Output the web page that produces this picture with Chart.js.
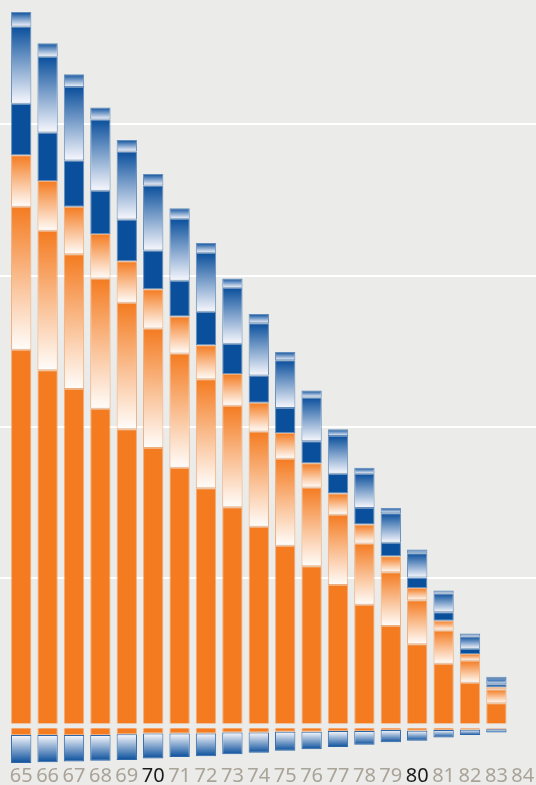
<!DOCTYPE html>
<html>
<head>
<meta charset="utf-8">
<script src="https://cdn.jsdelivr.net/npm/chart.js@4"></script>
<style>
  body { margin: 0; background: #ebebe9; }
  canvas { display: block; }
</style>
</head>
<body>
<canvas id="myChart" width="536" height="785"></canvas>
<script>
// ages on the x axis
const ages = ['65','66','67','68','69','70','71','72','73','74','75','76','77','78','79','80','81','82','83','84'];
const highlightAges = ['70','80'];

// positive stack, bottom to top
const solidOrange     = [49.7, 47.0, 44.5, 41.9, 39.2, 36.7, 34.1, 31.4, 28.9, 26.3, 23.8, 21.1, 18.6, 16.0, 13.2, 10.8, 8.2, 5.7, 3.0, 0];
const orangeFade      = [18.9, 18.4, 17.8, 17.2, 16.7, 15.8, 15.1, 14.4, 13.4, 12.6, 11.5, 10.4, 9.3, 8.1, 7.1, 5.8, 4.4, 2.9, 1.8, 0];
const orangeFadeSmall = [6.8, 6.6, 6.3, 5.9, 5.5, 5.2, 4.9, 4.5, 4.2, 3.8, 3.4, 3.2, 2.8, 2.5, 2.1, 1.6, 1.3, 0.9, 0.3, 0];
const solidBlue       = [6.8, 6.4, 6.1, 5.7, 5.5, 5.1, 4.7, 4.4, 4.0, 3.6, 3.3, 2.9, 2.6, 2.2, 1.8, 1.4, 1.1, 0.7, 0.4, 0];
const blueFade        = [10.2, 10.0, 9.7, 9.4, 9.0, 8.6, 8.2, 7.8, 7.4, 6.9, 6.3, 5.8, 5.0, 4.5, 3.9, 3.2, 2.5, 1.6, 0.7, 0];
const blueFadeSmall   = [1.9, 1.8, 1.7, 1.6, 1.5, 1.5, 1.4, 1.3, 1.2, 1.2, 1.1, 0.9, 0.9, 0.8, 0.7, 0.5, 0.4, 0.4, 0.3, 0];

// negative stack, top to bottom
const negOrange = [-1.2, -1.2, -1.2, -1.2, -1.1, -1.0, -1.0, -1.0, -0.86, -0.86, -0.78, -0.78, -0.69, -0.69, -0.56, -0.65, -0.56, -0.52, -0.46, 0];
const negBlue   = [-3.7, -3.6, -3.5, -3.4, -3.4, -3.3, -3.1, -3.0, -2.9, -2.7, -2.5, -2.3, -2.1, -1.8, -1.6, -1.3, -0.97, -0.7, -0.4, 0];

// white guide lines
const gridValues = [19.5, 39.5, 59.5, 79.5];

const allSeries = [solidOrange, orangeFade, orangeFadeSmall, solidBlue, blueFade, blueFadeSmall, negOrange, negBlue];

const ORANGE = '#f47b20';
const BLUE = '#0a4f9c';
const BG = '#ebebe9';

function segmentBounds(di, i){
    const v = allSeries[di][i];
    let start = 0;
    for(let k = 0; k < di; k += 1){
        const w = allSeries[k][i];
        if((w < 0) === (v < 0)) start += w;
    }
    return [start, start + v];
}

// gradient from topColor (top of the segment) to bottomColor
function fade(topColor, bottomColor){
    return function(context){
        if(context.type !== 'data') return topColor;
        const chart = context.chart;
        const y = chart.scales.y;
        if(!chart.chartArea || !y) return topColor;
        const b = segmentBounds(context.datasetIndex, context.dataIndex);
        const yTop = y.getPixelForValue(Math.max(b[0], b[1]));
        const yBot = y.getPixelForValue(Math.min(b[0], b[1]));
        if(!(yBot > yTop)) return topColor;
        const g = chart.ctx.createLinearGradient(0, yTop, 0, yBot);
        g.addColorStop(0, topColor);
        g.addColorStop(1, bottomColor);
        return g;
    };
}

const orangeEdge = 'rgba(244,123,32,0.55)';
const blueEdge = 'rgba(10,79,156,0.6)';

function makeSet(data, fill, edge){
    return {
        data: data,
        backgroundColor: fill,
        borderColor: edge,
        borderWidth: 1,
        borderSkipped: false,
        stack: 's'
    };
}

const backdrop = {
    id: 'backdrop',
    beforeDraw(chart){
        const c = chart.ctx;
        c.save();
        c.fillStyle = BG;
        c.fillRect(0, 0, chart.width, chart.height);
        c.restore();
    },
    beforeDatasetsDraw(chart){
        const c = chart.ctx;
        const y = chart.scales.y;
        c.save();
        c.strokeStyle = '#ffffff';
        c.lineWidth = 2;
        gridValues.forEach(function(v){
            const py = Math.round(y.getPixelForValue(v));
            c.beginPath();
            c.moveTo(0, py);
            c.lineTo(chart.width, py);
            c.stroke();
        });
        c.restore();
    },
    afterDatasetsDraw(chart){
        // the light break at the zero line
        const c = chart.ctx;
        const y0 = chart.scales.y.getPixelForValue(0);
        c.save();
        c.fillStyle = BG;
        c.fillRect(0, y0 - 2.5, chart.width, 5);
        c.restore();
    }
};

const ctx = document.getElementById('myChart').getContext('2d');
const myChart = new Chart(ctx, {
    type: 'bar',
    data: {
        labels: ages,
        datasets: [
            makeSet(solidOrange, ORANGE, orangeEdge),
            makeSet(orangeFade, fade(ORANGE, '#fffdfb'), orangeEdge),
            makeSet(orangeFadeSmall, fade(ORANGE, '#fffdfb'), orangeEdge),
            makeSet(solidBlue, BLUE, blueEdge),
            makeSet(blueFade, fade(BLUE, '#f8f8fd'), blueEdge),
            makeSet(blueFadeSmall, fade(BLUE, '#f8f8fd'), blueEdge),
            makeSet(negOrange, ORANGE, orangeEdge),
            makeSet(negBlue, fade('#fbfbfe', BLUE), 'rgba(10,79,156,0.85)')
        ]
    },
    options: {
        responsive: false,
        animation: false,
        layout: { padding: { left: 8, right: 0, top: 0, bottom: 0 } },
        datasets: {
            bar: { barPercentage: 0.77, categoryPercentage: 1 }
        },
        plugins: {
            legend: { display: false },
            tooltip: { enabled: false }
        },
        scales: {
            x: {
                stacked: true,
                grid: { display: false, drawTicks: false },
                border: { display: false },
                ticks: {
                    padding: 0,
                    maxRotation: 0,
                    autoSkip: false,
                    font: { family: '"Liberation Sans Narrow", "Noto Sans"', size: 20, lineHeight: 1 },
                    color: function(c){
                        return highlightAges.includes(ages[c.index]) ? '#1b1b1b' : '#a9a398';
                    }
                },
                afterFit: function(scale){ scale.height = 19; }
            },
            y: {
                stacked: true,
                display: false,
                min: -5.3,
                max: 95.9
            }
        }
    },
    plugins: [backdrop]
});
</script>
</body>
</html>
